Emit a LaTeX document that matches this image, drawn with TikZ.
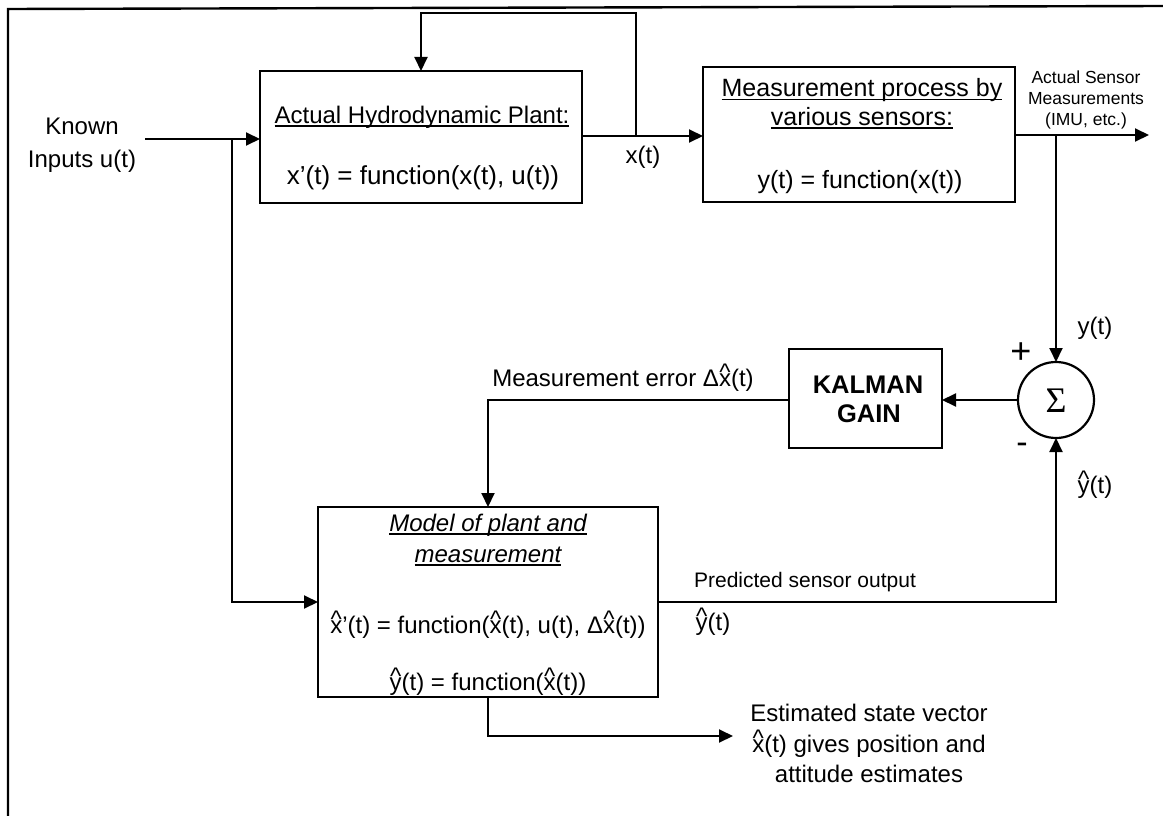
\documentclass[tikz,border=0pt]{standalone}
\usepackage{fontspec}
\setmainfont{Liberation Sans}
\newfontfamily\sigmafont{Liberation Serif}
\usetikzlibrary{arrows.meta}

% a caret set over a letter, as in x-hat
\newcommand{\hatover}[1]{{\setbox0\hbox{#1}\rlap{\hbox to \wd0{\hss\raisebox{0.21em}{\char"5E}\hss}}\box0}}

\tikzset{
  blk/.style={draw, line width=2.2pt, inner sep=0pt, outer sep=0pt},
  wire/.style={line width=2pt},
  arr/.style={wire, -{Triangle[length=14pt,width=13pt]}},
  lbl/.style={anchor=base, inner sep=0pt, outer sep=0pt, font=\fontsize{24}{29}\selectfont},
  measlbl/.style={lbl, font=\fontsize{25}{30}\selectfont},
  eqlbl/.style={lbl, font=\fontsize{26}{31}\selectfont},
  smalllbl/.style={lbl, font=\fontsize{17.5}{21}\selectfont},
  midlbl/.style={lbl, font=\fontsize{21}{25}\selectfont},
  boldlbl/.style={lbl, font=\fontsize{25.5}{30}\selectfont\bfseries},
  itlbl/.style={lbl, font=\fontsize{24}{29}\selectfont\itshape},
  uline/.style={line width=1.4pt},
  frameline/.style={line width=2.4pt},
}

\begin{document}
\begin{tikzpicture}[x=1pt, y=-1pt]
\useasboundingbox (0,0) rectangle (1163,816);

% page frame (top and left edges only)
\draw[frameline] (1163,6) -- (8,9) -- (8,816);

% blocks
\node[blk, minimum width=322pt, minimum height=132pt] (plant) at (421,137) {};
\node[blk, minimum width=312pt, minimum height=135pt] (meas) at (859,134.5) {};
\node[blk, minimum width=153pt, minimum height=99pt] (kalman) at (865.5,398.5) {};
\node[blk, minimum width=340pt, minimum height=190pt] (model) at (488,602) {};
\node[blk, circle, minimum size=76pt] (sum) at (1056,400) {};

% plant block text
\node[lbl] (ptitle) at (422,123) {Actual Hydrodynamic Plant:};
\draw[uline] ([yshift=-2.8pt]ptitle.base west) -- ([yshift=-2.8pt]ptitle.base east);
\node[eqlbl] (peq) at (423,184) {x'(t) = function(x(t), u(t))};

% measurement block text
\node[measlbl] (mtitleA) at (862,97) {Measurement process by};
\draw[uline] ([yshift=-2.8pt]mtitleA.base west) -- ([yshift=-2.8pt]mtitleA.base east);
\node[measlbl] (mtitleB) at (862,125) {various sensors:};
\draw[uline] ([yshift=-2.8pt]mtitleB.base west) -- ([yshift=-2.8pt]mtitleB.base east);
\node[measlbl] (meq) at (860,188) {y(t) = function(x(t))};

% Kalman gain block text
\node[boldlbl] (kA) at (868,393) {KALMAN};
\node[boldlbl] (kB) at (869,422) {GAIN};

% summing junction
\node[inner sep=0pt, font=\fontsize{36}{36}\selectfont\sigmafont] (sigma) at (1056,401) {Σ};
\node[inner sep=0pt, font=\fontsize{36}{36}\selectfont] (plus) at (1021,353) {+};
\node[inner sep=0pt, font=\fontsize{34}{34}\selectfont] (minus) at (1022,448) {-};

% model block text
\node[itlbl] (moA) at (488,531) {Model of plant and};
\draw[uline] ([yshift=-2.8pt]moA.base west) -- ([yshift=-2.8pt]moA.base east);
\node[itlbl] (moB) at (488,562) {measurement};
\draw[uline] ([yshift=-2.8pt]moB.base west) -- ([yshift=-2.8pt]moB.base east);
\node[lbl] (moeqA) at (488,633) {\hatover{x}'(t) = function(\hatover{x}(t), u(t), Δ\hatover{x}(t))};
\node[lbl] (moeqB) at (488,690) {\hatover{y}(t) = function(\hatover{x}(t))};

% free labels
\node[lbl] (knownA) at (82,135) {Known};
\node[lbl] (knownB) at (82,167) {Inputs u(t)};
\node[lbl] (xlab) at (643,163) {x(t)};
\node[smalllbl] (asA) at (1086,84) {Actual Sensor};
\node[smalllbl] (asB) at (1086,104) {Measurements};
\node[smalllbl] (asC) at (1086,125) {(IMU, etc.)};
\node[lbl] (ylab) at (1095,334) {y(t)};
\node[lbl] (yhlab) at (1095,493) {\hatover{y}(t)};
\node[lbl] (errlab) at (623,386) {Measurement error Δ\hatover{x}(t)};
\node[midlbl] (predlab) at (805,587) {Predicted sensor output};
\node[lbl] (yhlabB) at (713,630) {\hatover{y}(t)};
\node[lbl] (estA) at (869,721) {Estimated state vector};
\node[lbl] (estB) at (869,752) {\hatover{x}(t) gives position and};
\node[lbl] (estC) at (869,782) {attitude estimates};

% connector points
\coordinate (uin) at (145,139);
\coordinate (ujn) at (232,139);
\coordinate (xjn) at (636,136);
\coordinate (fbtop) at (636,13);
\coordinate (yjn) at (1056,135);
\coordinate (yout) at (1149,135);
\coordinate (estpt) at (733,736);

% connectors
\draw[arr] (uin) -- (uin -| plant.west);
\draw[arr] (ujn) |- (model.west);
\draw[arr] (plant.east |- xjn) -- (meas.west |- xjn);
\draw[arr] (xjn) -- (fbtop) -| (plant.north);
\draw[arr] (meas.east |- yout) -- (yout);
\draw[arr] (yjn) -- (sum.north);
\draw[arr] (sum.west) -- (kalman.east |- sum.west);
\draw[arr] (kalman.west |- sum.west) -| (model.north);
\draw[arr] (model.east) -| (sum.south);
\draw[arr] (model.south) |- (estpt);
\end{tikzpicture}
\end{document}
